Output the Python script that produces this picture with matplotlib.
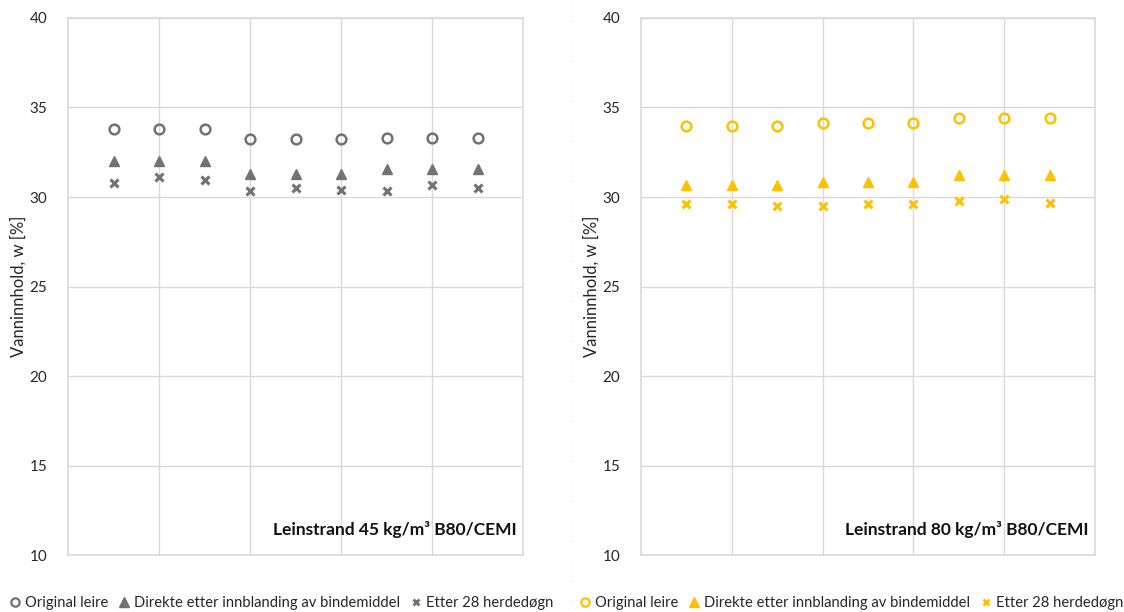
import matplotlib
matplotlib.use("Agg")
import matplotlib.pyplot as plt
from matplotlib.lines import Line2D

plt.rcParams["font.family"] = ["Lato", "DejaVu Sans"]

# sample number along x (no tick labels shown)
x = [1, 2, 3, 4, 5, 6, 7, 8, 9]

# Leinstrand 45 kg/m3
orig_45 = [33.8, 33.8, 33.8, 33.23, 33.23, 33.23, 33.28, 33.28, 33.28]
direkte_45 = [32.03, 32.03, 32.03, 31.3, 31.3, 31.3, 31.57, 31.57, 31.57]
etter_45 = [30.8, 31.14, 30.97, 30.32, 30.5, 30.39, 30.32, 30.67, 30.5]

# Leinstrand 80 kg/m3
orig_80 = [33.97, 33.97, 33.97, 34.14, 34.14, 34.14, 34.42, 34.42, 34.42]
direkte_80 = [30.69, 30.69, 30.69, 30.86, 30.86, 30.86, 31.25, 31.25, 31.25]
etter_80 = [29.61, 29.61, 29.48, 29.48, 29.61, 29.61, 29.78, 29.89, 29.66]

labels = ["Original leire", "Direkte etter innblanding av bindemiddel", "Etter 28 herdedøgn"]
titles = ["Leinstrand 45 kg/m³ B80/CEMI", "Leinstrand 80 kg/m³ B80/CEMI"]

GRAY = "#767171"
GOLD = "#FFC000"
GRID = "#d9d9d9"

fig = plt.figure(figsize=(11.24, 6.12), dpi=100)
ax1 = fig.add_axes([0.0605, 0.0931, 0.405, 0.8775])
ax2 = fig.add_axes([0.5703, 0.0931, 0.404, 0.8775])


def draw(ax, orig, direkte, etter, color, title, leg_x):
    ax.plot(x, orig, ls="none", marker="o", ms=7, mfc="none", mec=color, mew=1.8)
    ax.plot(x, direkte, ls="none", marker="^", ms=7, color=color)
    ax.plot(x, etter, ls="none", marker="x", ms=6, mec=color, mew=2.2)
    ax.set_xlim(0, 10)
    ax.set_ylim(10, 40)
    ax.set_xticks([2, 4, 6, 8])
    ax.set_xticklabels([])
    ax.set_yticks(range(10, 41, 5))
    ax.tick_params(length=0, labelsize=11, pad=15, labelcolor="#262626")
    ax.grid(True, color=GRID, lw=1)
    ax.set_axisbelow(True)
    for s in ax.spines.values():
        s.set_color(GRID)
        s.set_linewidth(1.2)
    ax.set_ylabel("Vanninnhold, w [%]", fontsize=12, color="#262626", labelpad=2)
    ax.text(0.985, 0.032, title, transform=ax.transAxes, ha="right", va="bottom",
            fontsize=12.5, fontweight="bold", color="#111111")
    handles = [
        Line2D([], [], ls="none", marker="o", ms=6, mfc="none", mec=color, mew=1.6),
        Line2D([], [], ls="none", marker="^", ms=6.5, color=color),
        Line2D([], [], ls="none", marker="x", ms=5, mec=color, mew=2),
    ]
    fig.legend(handles, labels, loc="center left", bbox_to_anchor=(leg_x, 0.015),
               ncol=3, frameon=False, fontsize=10.6, handlelength=0.7,
               handletextpad=0.3, columnspacing=0.75, labelcolor="#262626",
               borderaxespad=0, borderpad=0)


draw(ax1, orig_45, direkte_45, etter_45, GRAY, titles[0], 0.009)
draw(ax2, orig_80, direkte_80, etter_80, GOLD, titles[1], 0.516)

# faint dotted separator between the two charts
fig.add_artist(Line2D([0.508, 0.508], [0.0, 1.0], transform=fig.transFigure,
                      color="#e0e0e0", lw=0.8, ls=(0, (1, 8))))

fig.savefig("out.png", dpi=100)
